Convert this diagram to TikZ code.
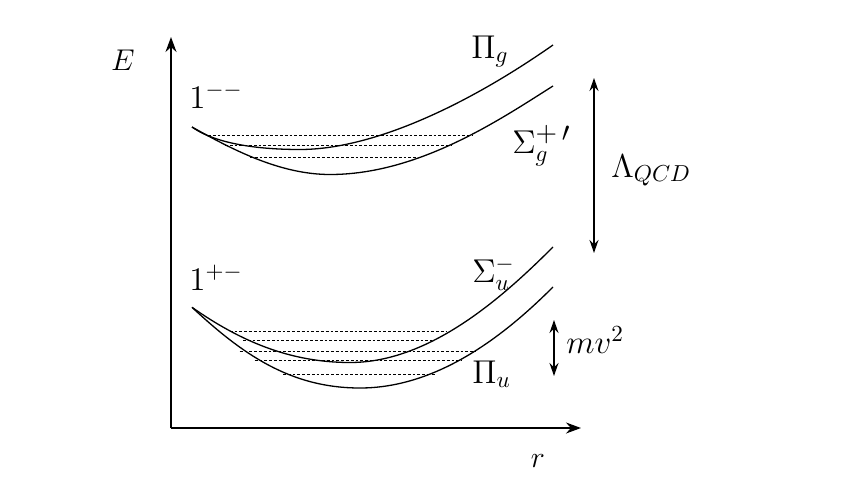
\RequirePackage{fix-cm}
\documentclass[tikz,border=0pt]{standalone}
\usepackage{graphicx}
\usetikzlibrary{arrows.meta}
\begin{document}
\begin{tikzpicture}[x=0.5pt,y=-0.5pt,
  curve/.style={line width=0.65pt},
  level/.style={line width=0.45pt,dash pattern=on 1.4pt off 1pt},
  axisline/.style={line width=0.7pt,-{Stealth[length=7.5pt,width=5.5pt]}},
  scalearrow/.style={line width=0.7pt,{Stealth[length=6.5pt,width=4.5pt]}-{Stealth[length=6.5pt,width=4.5pt]}},
  biglbl/.style={inner sep=0pt,anchor=base west,font=\fontsize{16.5}{19}\selectfont},
  axlbl/.style={inner sep=0pt,font=\fontsize{15}{18}\selectfont}]
\useasboundingbox (0,0) rectangle (847,477);
% axes
\coordinate (O) at (171,428);
\coordinate (Etip) at (171,37);
\coordinate (rtip) at (581,428);
\draw[axisline] (O) -- (Etip);
\draw[axisline] (O) -- (rtip);
\node[axlbl] (E) at (123,60) {$E$};
\node[axlbl] (r) at (538,461) {$r$};
% upper pair: Pi_g and Sigma_g^+'
\draw[curve] (192,127) .. controls (210,140) and (245,149.5) .. (300,149.5)
                       .. controls (370,149.5) and (463,108) .. (553,45);
\draw[curve] (192,127) .. controls (232,149.4) and (280,174.5) .. (330,174.5)
                       .. controls (420,174.5) and (503,117.5) .. (553,86);
\draw[level] (208,135) -- (473,135);
\draw[level] (225,145) -- (452,145);
\draw[level] (250,157.7) -- (418,157.7);
% lower pair: Sigma_u^- and Pi_u
\draw[curve] (192,307.3) .. controls (240,341) and (290,362.5) .. (350,362.5)
                         .. controls (430,362.5) and (503,297) .. (553,247);
\draw[curve] (192,307.3) .. controls (242,353.8) and (290,388) .. (360,388)
                         .. controls (440,388) and (508,332) .. (553,287);
\draw[level] (229.7,331.7) -- (446.7,331.7);
\draw[level] (243,340.7) -- (432,340.7);
\draw[level] (239.7,351.7) -- (476,351.7);
\draw[level] (254.7,360.5) -- (461.7,360.5);
\draw[level] (283,374) -- (436,374);
% labels
\node[biglbl] (l1) at (189,108) {$1^{--}$};
\node[biglbl] (l2) at (189,290) {$1^{+-}$};
\node[biglbl] (Pg) at (471,58) {$\Pi_g$};
\node[biglbl] (Sg) at (512,153) {$\Sigma_g^{\scalebox{1.2}{$\scriptstyle +\,\prime$}}$};
\node[biglbl] (Su) at (472,282) {$\Sigma_u^-$};
\node[biglbl] (Pu) at (472,383) {$\Pi_u$};
% scale arrows
\coordinate (Lt) at (594,78);
\coordinate (Lb) at (594,253);
\draw[scalearrow] (Lt) -- (Lb);
\node[biglbl] (Lqcd) at (611,177) {$\Lambda_{QCD}$};
\coordinate (mt) at (554,320);
\coordinate (mb) at (554,376);
\draw[scalearrow] (mt) -- (mb);
\node[biglbl] (mv) at (566,353) {$mv^2$};
\end{tikzpicture}
\end{document}
